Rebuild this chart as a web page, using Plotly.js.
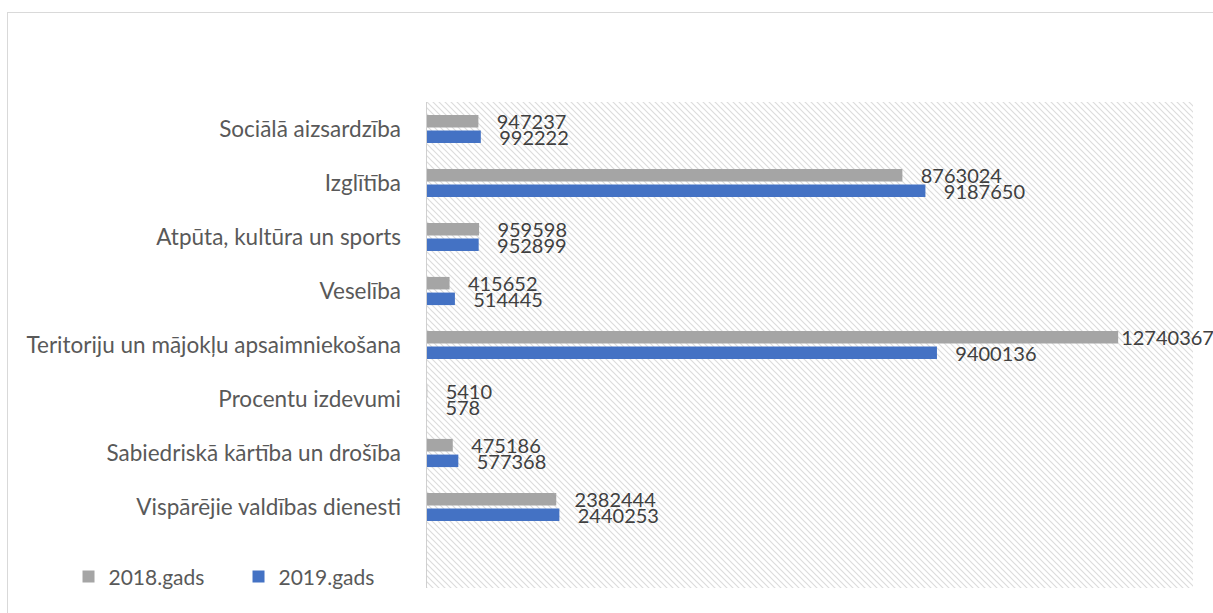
<!DOCTYPE html>
<html>
<head>
<meta charset="utf-8">
<script src="https://cdn.plot.ly/plotly-3.0.1.min.js"></script>
<style>
  html, body { margin: 0; padding: 0; background: #fff; }
  #chart { width: 1213px; height: 613px; position: relative; }
  #frame { position: absolute; left: 7px; top: 12px; width: 1240px; height: 700px;
           border: 1px solid #d9d9d9; pointer-events: none; z-index: 10; }
</style>
</head>
<body>
<div id="chart"></div>
<div id="frame"></div>
<script>
// Categories, listed top to bottom as shown
const categories = [
  "Sociālā aizsardzība",
  "Izglītība",
  "Atpūta, kultūra un sports",
  "Veselība",
  "Teritoriju un mājokļu apsaimniekošana",
  "Procentu izdevumi",
  "Sabiedriskā kārtība un drošība",
  "Vispārējie valdības dienesti"
];
const values2018 = [947237, 8763024, 959598, 415652, 12740367, 5410, 475186, 2382444];
const values2019 = [992222, 9187650, 952899, 514445, 9400136, 578, 577368, 2440253];
const seriesNames = ["2018.gads", "2019.gads"];

const xMax = 14120000;
const pad = "\u00a0\u00a0\u00a0";
function labels(vals) {
  return vals.map(v => (v > 0.85 * xMax ? "" : pad) + String(v));
}

const hatchSvg =
  '<svg xmlns="http://www.w3.org/2000/svg" width="766" height="486">' +
  '<defs><pattern id="h" width="6" height="6" patternUnits="userSpaceOnUse">' +
  '<path d="M-1,-1 L7,7 M-1,5 L1,7 M5,-1 L7,1" stroke="#dcdcdc" stroke-width="1.2"/>' +
  '</pattern></defs><rect width="766" height="486" fill="#fff"/>' +
  '<rect width="766" height="486" fill="url(#h)"/></svg>';
const hatchUri = "data:image/svg+xml;charset=utf-8," + encodeURIComponent(hatchSvg);

const fontFam = "Lato, 'Open Sans', sans-serif";

const traces = [
  {
    type: "bar", orientation: "h", name: seriesNames[0],
    y: categories, x: values2018,
    marker: { color: "#a5a5a5" },
    text: labels(values2018), textposition: "outside", cliponaxis: false,
    constraintext: "none",
    textfont: { family: fontFam, size: 20, color: "#404040" },
    hoverinfo: "x+y"
  },
  {
    type: "bar", orientation: "h", name: seriesNames[1],
    y: categories, x: values2019,
    marker: { color: "#4472c4" },
    text: labels(values2019), textposition: "outside", cliponaxis: false,
    constraintext: "none",
    textfont: { family: fontFam, size: 20, color: "#404040" },
    hoverinfo: "x+y"
  }
];

const layout = {
  width: 1213, height: 613,
  margin: { l: 427, r: 20, t: 102, b: 25, pad: 0 },
  paper_bgcolor: "#ffffff",
  plot_bgcolor: "#ffffff",
  font: { family: fontFam, size: 21, color: "#595959" },
  barmode: "group",
  bargap: 0.42,
  bargroupgap: 0.2,
  showlegend: true,
  legend: {
    orientation: "h", x: -0.468, xanchor: "left", y: 0.023, yanchor: "middle",
    font: { family: fontFam, size: 21, color: "#595959" },
    bgcolor: "rgba(0,0,0,0)", entrywidth: 125, entrywidthmode: "pixels"
  },
  xaxis: {
    range: [0, xMax], showgrid: false, zeroline: false, showticklabels: false,
    showline: false, ticks: "", fixedrange: true
  },
  yaxis: {
    type: "category", categoryorder: "array", categoryarray: categories,
    range: [8.5, -0.5], showgrid: false, zeroline: false,
    showline: true, linecolor: "#d0d0d0", linewidth: 1.5,
    ticks: "", ticklabelstandoff: 20, automargin: false,
    tickfont: { family: fontFam, size: 22.5, color: "#595959" }
  },
  images: [{
    source: hatchUri, xref: "paper", yref: "paper", x: 0, y: 1,
    sizex: 1, sizey: 1, xanchor: "left", yanchor: "top",
    sizing: "stretch", layer: "below"
  }]
};

Plotly.newPlot("chart", traces, layout, { displayModeBar: false, staticPlot: true });
</script>
</body>
</html>
